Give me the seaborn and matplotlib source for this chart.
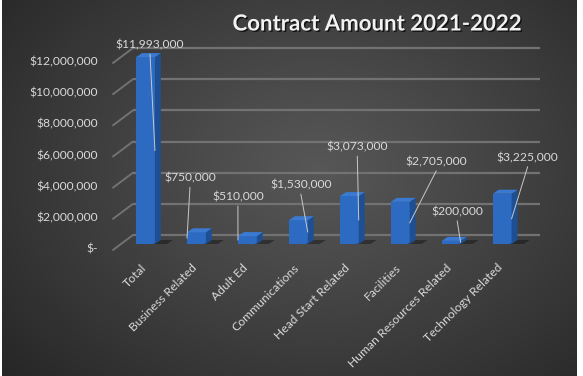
import numpy as np
import pandas as pd
import matplotlib
matplotlib.use("Agg")
import matplotlib.pyplot as plt
import seaborn as sns
from matplotlib.transforms import ScaledTranslation, IdentityTransform
from matplotlib.patches import Polygon
from matplotlib.lines import Line2D
import matplotlib.patheffects as pe

# ---------------- data ----------------
categories = ["Total", "Business Related", "Adult Ed", "Communications",
              "Head Start Related", "Facilities", "Human Resources Related",
              "Technology Related"]
amounts = [11993000, 750000, 510000, 1530000, 3073000, 2705000, 200000, 3225000]
y_ticks = [0, 2000000, 4000000, 6000000, 8000000, 10000000, 12000000]
y_tick_labels = ["$-", "$2,000,000", "$4,000,000", "$6,000,000",
                 "$8,000,000", "$10,000,000", "$12,000,000"]
title = "Contract Amount 2021-2022"

# ---------------- layout (pixels) ----------------
# data-label offsets relative to the top-centre of each bar's front face (x right, y down)
label_offsets = [(4.5, -12), (-6.5, -54), (-9.5, -39), (2.5, -35),
                 (8, -49), (36, -40), (6, -29), (25.5, -36)]
DEPTH_X, DEPTH_Y = 6, 4          # bar 3-D depth
WALL_X, WALL_Y = 20, 9           # back-wall offset of gridlines

sns.set_style("white")
plt.rcParams["font.family"] = ["Lato", "DejaVu Sans"]

W, H, DPI = 583, 376, 100
fig = plt.figure(figsize=(W / DPI, H / DPI), dpi=DPI, facecolor="white")

# background radial gradient
bg = fig.add_axes([2 / W, 0, 575 / W, 1], zorder=-10)
gx = np.linspace(0, 1, 400)
gy = np.linspace(0, 1, 260)
X, Y = np.meshgrid(gx, gy)
r = np.sqrt(((X - 0.55) / 0.75) ** 2 + ((Y - 0.45) / 0.85) ** 2)
r = np.clip(r, 0, 1) ** 1.1
c_center, c_edge = 0.34, 0.145
img = c_center + (c_edge - c_center) * r
bg.imshow(np.dstack([img, img, img]), aspect="auto", extent=[0, 1, 0, 1], origin="upper")
bg.set_axis_off()

# main axes: front plane, y=0 at pixel 244, y=12M at pixel 57
left_px, right_px, zero_px, top_px = 113, 520, 244, 57
ax = fig.add_axes([left_px / W, 1 - zero_px / H, (right_px - left_px) / W, (zero_px - top_px) / H])
ax.set_facecolor("none")

df = pd.DataFrame({"category": categories, "amount": amounts})
sns.barplot(data=df, x="category", y="amount", ax=ax, color="#2D6BC2",
            saturation=1, width=0.37, zorder=3, edgecolor="none")

c0, step = 145.5, 50.95
ax.set_xlim((left_px - c0) / step, (right_px - c0) / step)
ax.set_ylim(0, 12000000)
ax.set_xticks([])
ax.set_yticks([])
ax.set_xlabel("")
ax.set_ylabel("")
for s in ax.spines.values():
    s.set_visible(False)

def off(dx, dy):
    """pixel offset (x right, y down in image terms)"""
    return ScaledTranslation(dx / DPI, -dy / DPI, fig.dpi_scale_trans)

grid_col = "#727272"
ytrans = ax.get_yaxis_transform()
for v, lab in zip(y_ticks, y_tick_labels):
    # back-wall gridline
    ax.plot([0, 1], [v, v], transform=ytrans + off(WALL_X, -WALL_Y),
            color=grid_col, lw=1.6, zorder=0.5, clip_on=False, solid_capstyle="butt")
    # side-wall diagonal
    p_front = ax.transData.transform((ax.get_xlim()[0], v)) + np.array([0, -6])
    p_back = ax.transData.transform((ax.get_xlim()[0], v)) + np.array([WALL_X, WALL_Y])
    fig.add_artist(Line2D([p_front[0], p_back[0]], [p_front[1], p_back[1]],
                          transform=IdentityTransform(), color=grid_col, lw=1.4, zorder=0.5))
    ax.text(0, v, lab, transform=ytrans + off(-15, 5), ha="right", va="center",
            fontsize=8.7, color="#D9D9D9")

# 3-D faces, shadows, data labels and leader lines
for i, (patch, val) in enumerate(zip(ax.patches, amounts)):
    x0, y0 = patch.get_x(), patch.get_y()
    w, h = patch.get_width(), patch.get_height()
    bl = ax.transData.transform((x0, 0))
    tr = ax.transData.transform((x0 + w, h))
    xl, xr, yb, yt = bl[0], tr[0], bl[1], tr[1]
    # shadow on floor
    shadow = Polygon([(xr - 2, yb), (xr + 12, yb), (xr + 12 + DEPTH_X, yb + DEPTH_Y),
                      (xr + DEPTH_X - 2, yb + DEPTH_Y)], closed=True,
                     transform=IdentityTransform(), facecolor="black", alpha=0.35,
                     edgecolor="none", zorder=2)
    fig.add_artist(shadow)
    side = Polygon([(xr, yb), (xr + DEPTH_X, yb + DEPTH_Y), (xr + DEPTH_X, yt + DEPTH_Y), (xr, yt)],
                   closed=True, transform=IdentityTransform(), facecolor="#1E4F93",
                   edgecolor="none", zorder=3)
    top = Polygon([(xl, yt), (xr, yt), (xr + DEPTH_X, yt + DEPTH_Y), (xl + DEPTH_X, yt + DEPTH_Y)],
                  closed=True, transform=IdentityTransform(), facecolor="#3A7AD2",
                  edgecolor="none", zorder=3)
    fig.add_artist(side)
    fig.add_artist(top)

    dx, dy = label_offsets[i]
    cx = (xl + xr) / 2
    lx, ly = cx + dx, yt - dy
    fig.text(lx / W, ly / H, "${:,.0f}".format(val), ha="center", va="center",
             fontsize=8.7, color="#D9D9D9", zorder=6)
    ex = xr if lx >= cx else xl
    ey = (yb + yt) / 2
    fig.add_artist(Line2D([lx, ex], [ly - 9, ey], transform=IdentityTransform(),
                          color="#C8C8C8", lw=0.7, zorder=5))

    # category label
    ax.text(i, 0, categories[i], transform=ax.get_xaxis_transform() + off(-1, 22),
            rotation=45, rotation_mode="anchor", ha="right", va="center",
            fontsize=8.7, color="#D9D9D9")

fig.text(377 / W, 1 - 24 / H, title, ha="center", va="center", fontsize=16,
         fontweight="bold", color="#F2F2F2",
         path_effects=[pe.withSimplePatchShadow(offset=(1, -1), shadow_rgbFace="black", alpha=0.7)])

fig.savefig("out.png", dpi=DPI, facecolor="white")
